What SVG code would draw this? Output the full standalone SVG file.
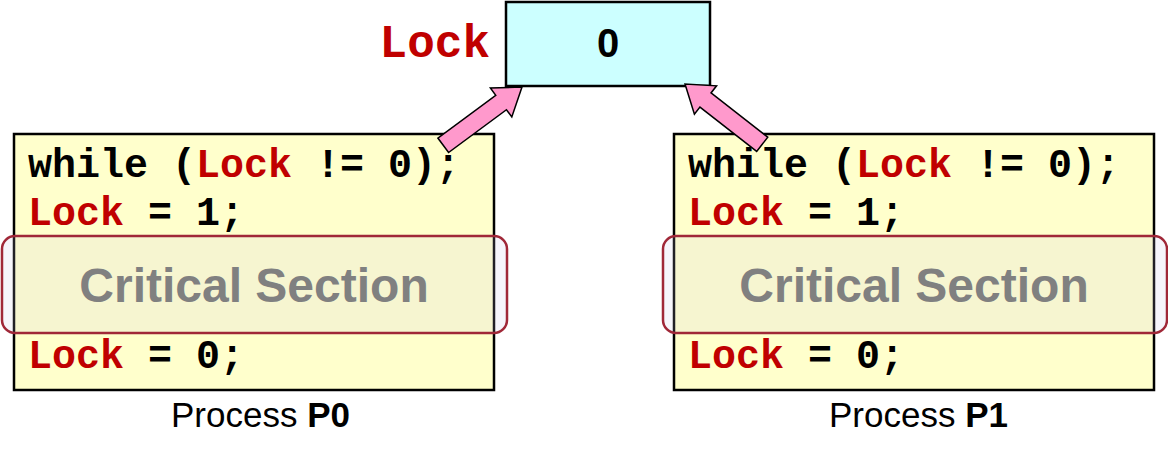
<svg xmlns="http://www.w3.org/2000/svg" width="1168" height="460" viewBox="0 0 1168 460">
<style>
.code{font-family:"Liberation Mono","Courier New",monospace;font-weight:bold;font-size:40px;fill:#000}
.red{fill:#C00000}
.box{fill:#FFFFCC;stroke:#000;stroke-width:2.5}
.cs{fill:#C8BEE6;fill-opacity:0.16;stroke:#A02838;stroke-width:2.5}
.cstext{font-family:"Liberation Sans",Arial,sans-serif;font-weight:bold;font-size:48px;fill:#808080;text-anchor:middle}
.label{font-family:"Liberation Sans",Arial,sans-serif;font-size:35px;fill:#000}
.arrow{fill:#FF99CC;stroke:#000;stroke-width:1.5;stroke-linejoin:miter}
</style>
<defs>
<polygon id="fat" points="0,0 -26,-18 -26,-9 -98,-9 -98,9 -26,9 -26,18"/>
</defs>
<g id="lock">
<rect x="506" y="2" width="204" height="84" fill="#CCFFFF" stroke="#000" stroke-width="2.5"/>
<text x="608" y="57" text-anchor="middle" style="font-family:'Liberation Sans',Arial,sans-serif;font-weight:bold;font-size:40px">0</text>
<text x="490" y="57" text-anchor="end" class="code red" style="font-size:46px">Lock</text>
</g>
<g id="p0">
<rect x="14" y="134" width="480" height="256" class="box"/>
<text x="28" y="177" class="code">while (<tspan class="red">Lock</tspan> != 0);</text>
<text x="28" y="225" class="code"><tspan class="red">Lock</tspan> = 1;</text>
<rect x="2" y="236" width="505" height="97" rx="13" class="cs"/>
<text x="254" y="302" class="cstext">Critical Section</text>
<text x="28" y="368" class="code"><tspan class="red">Lock</tspan> = 0;</text>
<text x="171" y="427" class="label">Process <tspan font-weight="bold">P0</tspan></text>
</g>
<g id="p1">
<rect x="674" y="134" width="480" height="256" class="box"/>
<text x="688" y="177" class="code">while (<tspan class="red">Lock</tspan> != 0);</text>
<text x="688" y="225" class="code"><tspan class="red">Lock</tspan> = 1;</text>
<rect x="663" y="236" width="504" height="97" rx="13" class="cs"/>
<text x="914" y="302" class="cstext">Critical Section</text>
<text x="688" y="368" class="code"><tspan class="red">Lock</tspan> = 0;</text>
<text x="829" y="427" class="label">Process <tspan font-weight="bold">P1</tspan></text>
</g>
<g id="connectors">
<use href="#fat" class="arrow" transform="translate(522,87) rotate(-36.5)"/>
<use href="#fat" class="arrow" transform="translate(685,84) rotate(-142)"/>
</g>
</svg>
